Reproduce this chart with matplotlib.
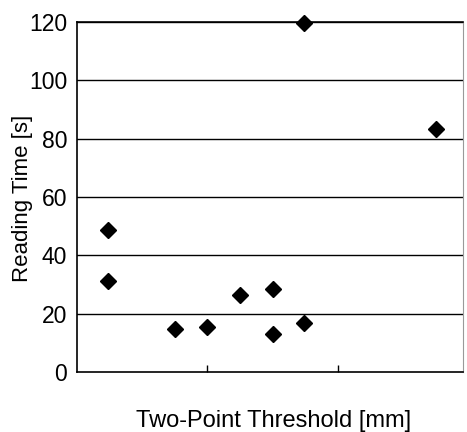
import numpy as np
import matplotlib
matplotlib.use("Agg")
import matplotlib.pyplot as plt

# values
threshold_mm = [2.4, 2.4, 7.5, 10.0, 12.5, 15.0, 15.0, 17.4, 17.4, 27.5]
reading_time_s = [48.7, 31.3, 14.7, 15.3, 26.4, 28.5, 13.1, 16.7, 119.6, 83.4]
y_ticks = [0, 20, 40, 60, 80, 100, 120]
x_ticks = [10, 20]

plt.rcParams['font.family'] = ['Liberation Sans', 'DejaVu Sans']

fig = plt.figure(figsize=(4.67, 4.32), dpi=100)
ax = fig.add_axes([77 / 467, 1 - 372 / 432, 386 / 467, 350 / 432])

# horizontal grid lines
for y in y_ticks[1:]:
    ax.axhline(y, color='black', linewidth=1.0, zorder=1)

ax.plot(threshold_mm, reading_time_s, linestyle='none', marker='D',
        markersize=8, color='black', zorder=3, clip_on=False)

ax.set_xlim(0, 29.6)
ax.set_ylim(0, 120)
ax.set_yticks(y_ticks)
ax.set_xticks(x_ticks)
ax.set_xticklabels([])
ax.tick_params(axis='y', length=0, labelsize=16.5, pad=7)
ax.tick_params(axis='x', direction='in', length=5, width=1)

for sp in ax.spines.values():
    sp.set_linewidth(1.2)
    sp.set_color('black')
ax.spines['right'].set_color('#999999')
ax.spines['right'].set_linewidth(0.8)

# axis titles placed where the reference has them
fig.text(23 / 467, 1 - 198 / 432, 'Reading Time [s]', fontsize=16,
         rotation=90, ha='center', va='center')
fig.text(274 / 467, 1 - 427 / 432, 'Two-Point Threshold [mm]', fontsize=17,
         ha='center', va='baseline')

fig.savefig('out.png', dpi=100)
